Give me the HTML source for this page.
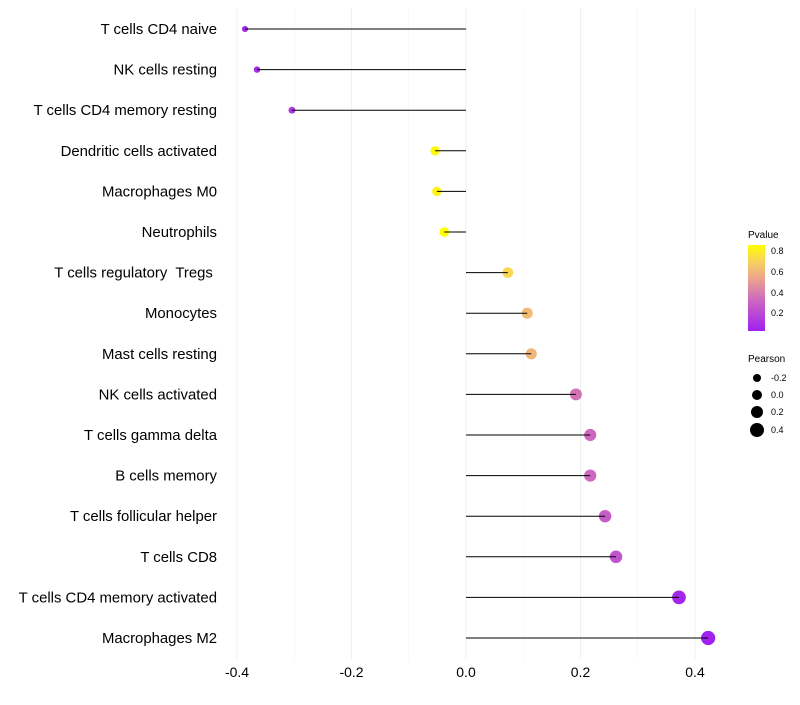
<!DOCTYPE html>
<html><head><meta charset="utf-8"><style>
body{margin:0;background:#fff;font-family:"Liberation Sans",sans-serif}
text{white-space:pre}
</style></head><body>
<svg id="c" width="800" height="700" xmlns="http://www.w3.org/2000/svg">
<defs><linearGradient id="pg" x1="0" y1="1" x2="0" y2="0">
<stop offset="0" stop-color="#A020F0"/><stop offset="0.35" stop-color="#CC66C0"/><stop offset="0.6" stop-color="#EBA090"/><stop offset="0.8" stop-color="#F7D060"/><stop offset="1" stop-color="#FFFF00"/></linearGradient></defs>
<g id="grid"></g><g id="pts"></g><g id="marks"></g><g id="labels"></g>
<g font-size="9">
<text x="748" y="238" font-size="10">Pvalue</text>
<rect x="748" y="245" width="17" height="86" fill="url(#pg)"/>
<text x="771" y="254">0.8</text><text x="771" y="275">0.6</text><text x="771" y="296">0.4</text><text x="771" y="316">0.2</text>
</g>
<g font-size="9">
<text x="748" y="362" font-size="10">Pearson</text>
<circle cx="757" cy="378" r="4"/><text x="771" y="381">-0.2</text>
<circle cx="757" cy="395" r="5"/><text x="771" y="398">0.0</text>
<circle cx="757" cy="412" r="6"/><text x="771" y="415">0.2</text>
<circle cx="757" cy="430" r="7"/><text x="771" y="433">0.4</text>
</g>
</svg>
<script>
const categories=["T cells CD4 naive","NK cells resting","T cells CD4 memory resting","Dendritic cells activated","Macrophages M0","Neutrophils","T cells regulatory  Tregs ","Monocytes","Mast cells resting","NK cells activated","T cells gamma delta","B cells memory","T cells follicular helper","T cells CD8","T cells CD4 memory activated","Macrophages M2"];
const pearson=[-0.386,-0.365,-0.304,-0.054,-0.051,-0.038,0.073,0.107,0.114,0.192,0.217,0.217,0.243,0.262,0.372,0.423];
const pvalue=[0.05,0.06,0.12,0.84,0.82,0.86,0.72,0.62,0.6,0.36,0.32,0.32,0.28,0.24,0.05,0.03];
const xticks=[-0.4,-0.2,0.0,0.2,0.4];
const NS="http://www.w3.org/2000/svg";
const X=v=>466+v*572.5;
const Y=i=>29+i*40.6;
function mk(t,a,p){const e=document.createElementNS(NS,t);for(const k in a)e.setAttribute(k,a[k]);p.appendChild(e);return e;}
const stops=[[0,[160,32,240]],[0.35,[204,102,192]],[0.6,[235,160,144]],[0.8,[247,208,96]],[1,[255,255,0]]];
function col(p){let t=(p-0.025)/(0.858-0.025);t=Math.max(0,Math.min(1,t));for(let i=1;i<stops.length;i++){if(t<=stops[i][0]){const a=stops[i-1],b=stops[i],f=(t-a[0])/(b[0]-a[0]);return 'rgb('+a[1].map((c,j)=>Math.round(c+(b[1][j]-c)*f)).join(',')+')';}}return 'rgb(255,255,0)';}
const g=document.getElementById('grid'),m=document.getElementById('marks'),pg=document.getElementById('pts'),l=document.getElementById('labels');
for(let v=-0.4;v<=0.41;v+=0.1){const ln=mk('line',{x1:X(v),x2:X(v),y1:8,y2:660,stroke:'#f0f0f0','stroke-width':Math.abs(Math.round(v*10))%2?0.5:1},g);

}
xticks.forEach(v=>{const t=mk('text',{x:X(v),y:677,'text-anchor':'middle','font-size':14},l);t.textContent=v.toFixed(1);

});
categories.forEach((c,i)=>{const t=mk('text',{x:217,y:Y(i)+5,'text-anchor':'end','font-size':14.9},l);t.textContent=c;


const s=mk('line',{x1:X(0),x2:X(pearson[i]),y1:Y(i),y2:Y(i),stroke:'#000','stroke-width':1},m);


const r=Math.max(1.8,5+5*pearson[i]);
const p=mk('circle',{cx:X(pearson[i]),cy:Y(i),r:r,fill:col(pvalue[i])},pg);

});
</script>
</body></html>
